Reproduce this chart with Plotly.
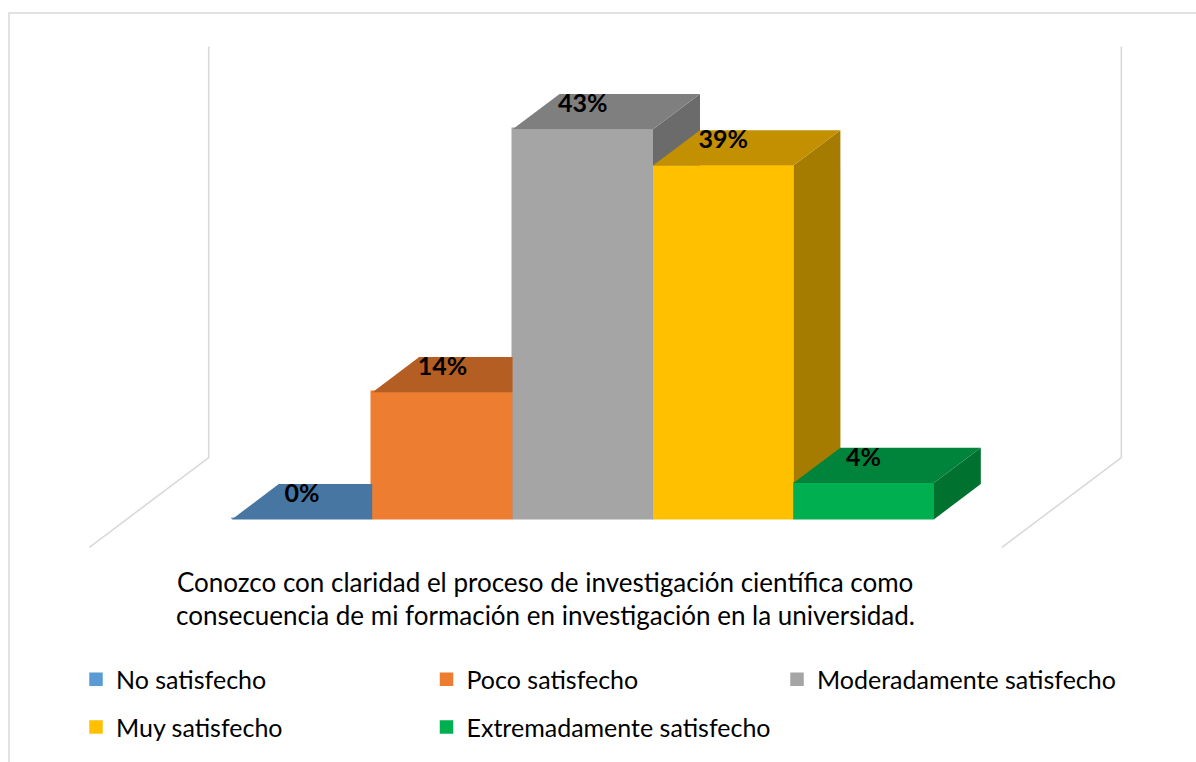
import plotly.graph_objects as go

# ---------------- data ----------------
categories = ["No satisfecho", "Poco satisfecho", "Moderadamente satisfecho",
              "Muy satisfecho", "Extremadamente satisfecho"]
values = [0, 14, 43, 39, 4]
value_labels = ["0%", "14%", "43%", "39%", "4%"]
axis_title_lines = ["Conozco con claridad el proceso de investigación científica como",
                    "consecuencia de mi formación en investigación en la universidad."]

# ---------------- styles ----------------
front_colors = ["#5B9BD5", "#ED7D31", "#A5A5A5", "#FFC000", "#00B050"]
top_colors = ["#4676A1", "#B55E24", "#7F7F7F", "#C29000", "#00843C"]
side_colors = ["#3F6A92", "#A0531F", "#6B6B6B", "#A67C00", "#00712F"]
FONT = "Lato"
GRID_COLOR = "#D9D9D9"

# ---------------- geometry (pixels) ----------------
W, H = 1196, 762
X0_PX, UX = 302.0, 140.4   # centre of first column, px per category
Y0_PX, UY = 522.0, 9.12    # baseline pixel, px per percent
ML, MR, MT, MB = 20, 20, 20, 162
plot_w = W - ML - MR
plot_h = H - MT - MB
xmin = (ML - X0_PX) / UX
xmax = xmin + plot_w / UX
ymax = (Y0_PX - MT) / UY
ymin = ymax - plot_h / UY
DX = 47.0 / UX      # depth offset (one bar depth) in x units
DY = 35.5 / UY      # depth offset in y units
FLOOR_PAD = 0.75    # floor extends beyond bars (x units)
D_BACK, D_FRONT = 1.75, -0.79   # floor depth extents in bar-depth units
WALL_TOP = 45.3
LABEL_OFFSET = 2.6


def px_to_paper_x(px):
    return (px - ML) / plot_w


def px_to_paper_y(py):
    return (H - MB - py) / plot_h


fig = go.Figure()

# legend / base bars (covered by the 3D faces drawn on top)
for i, (cat, v) in enumerate(zip(categories, values)):
    fig.add_trace(go.Bar(
        x=[i], y=[v], width=1, name=cat,
        marker=dict(color=front_colors[i], line=dict(width=1.5, color=front_colors[i])),
        legend="legend" if i < 3 else "legend2",
        hoverinfo="skip"))

# walls / floor edges
n = len(categories)
xl = -0.5 - FLOOR_PAD
xr = n - 0.5 + FLOOR_PAD
for xe in (xl, xr):
    fig.add_trace(go.Scatter(
        x=[xe + D_BACK * DX, xe + D_BACK * DX, xe + D_FRONT * DX],
        y=[WALL_TOP + D_BACK * DY, D_BACK * DY, D_FRONT * DY],
        mode="lines", line=dict(color=GRID_COLOR, width=1.6),
        showlegend=False, hoverinfo="skip"))


def poly(xs, ys, color):
    fig.add_trace(go.Scatter(
        x=xs + [xs[0]], y=ys + [ys[0]], mode="lines", fill="toself",
        fillcolor=color, line=dict(width=0, color=color),
        showlegend=False, hoverinfo="skip"))


for i, v in enumerate(values):
    a, b = i - 0.5, i + 0.5
    # right side
    poly([b, b + DX, b + DX, b], [0, DY, v + DY, v], side_colors[i])
    # top
    poly([a, b, b + DX, a + DX], [v, v, v + DY, v + DY], top_colors[i])
    # front
    if v > 0:
        poly([a, b, b, a], [0, 0, v, v], front_colors[i])

# data labels
fig.add_trace(go.Scatter(
    x=list(range(n)), y=[v + LABEL_OFFSET for v in values], text=value_labels,
    mode="text", textposition="middle center",
    textfont=dict(family=FONT, size=25, color="black", weight="bold"),
    showlegend=False, hoverinfo="skip", cliponaxis=False))

# axis title lines
for line, py in zip(axis_title_lines, [585, 618]):
    fig.add_annotation(
        x=px_to_paper_x(545), y=px_to_paper_y(py), xref="paper", yref="paper",
        text=line, showarrow=False, xanchor="center", yanchor="middle",
        font=dict(family=FONT, size=26, color="black"))

# chart border (left and top edges visible)
fig.add_shape(type="path", xref="paper", yref="paper",
              path=f"M {px_to_paper_x(9)},{px_to_paper_y(800)} L {px_to_paper_x(9)},{px_to_paper_y(13)} L {px_to_paper_x(1250)},{px_to_paper_y(13)}",
              line=dict(color=GRID_COLOR, width=1.5))

legend_common = dict(orientation="h", xanchor="left", yanchor="middle",
                     font=dict(family=FONT, size=25, color="black"),
                     entrywidth=305.5, entrywidthmode="pixels",
                     bgcolor="rgba(0,0,0,0)", borderwidth=0,
                     traceorder="normal")

fig.update_layout(
    width=W, height=H,
    margin=dict(l=ML, r=MR, t=MT, b=MB),
    paper_bgcolor="white", plot_bgcolor="white",
    barmode="overlay", bargap=0,
    xaxis=dict(range=[xmin, xmax], visible=False, fixedrange=True),
    yaxis=dict(range=[ymin, ymax], visible=False, fixedrange=True),
    legend=dict(x=px_to_paper_x(76), y=px_to_paper_y(683), **legend_common),
    legend2=dict(x=px_to_paper_x(76), y=px_to_paper_y(731), **legend_common),
    showlegend=True,
)

fig.write_html("out.html", config={"displayModeBar": False},
               post_script="document.body.style.margin='0px';document.body.style.overflow='hidden';")
